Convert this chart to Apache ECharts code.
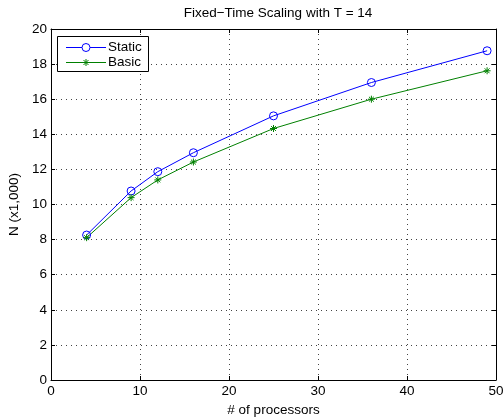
<!DOCTYPE html>
<html><head><meta charset="utf-8">
<script src="https://cdn.jsdelivr.net/npm/echarts@6/dist/echarts.min.js"></script>
<style>html,body{margin:0;padding:0;background:#fff}#c{width:503px;height:419px}</style>
</head><body><div id="c"></div>
<script>
var processors = [4, 9, 12, 16, 25, 36, 49];
var staticVals = [8.26, 10.77, 11.87, 12.95, 15.05, 16.95, 18.76];
var basicVals = [8.11, 10.39, 11.40, 12.42, 14.33, 16.0, 17.62];
var seriesNames = ['Static', 'Basic'];
var xTicks = [0, 10, 20, 30, 40, 50];
var yTicks = [0, 2, 4, 6, 8, 10, 12, 14, 16, 18, 20];

var font = 'Liberation Sans, Arial, Helvetica, sans-serif';
var fs = 13.5;
var blue = '#0000ff', green = '#008000';
var chart = echarts.init(document.getElementById('c'), null, {renderer: 'canvas'});
function pairs(xs, ys) { return xs.map(function (x, i) { return [x, ys[i]]; }); }
var star = 'path://M0,-10L0,10M-10,0L10,0M-7,-7L7,7M-7,7L7,-7';
var axisCommon = {
  axisLine: {show: true, onZero: false, lineStyle: {color: '#000', width: 1}},
  axisTick: {show: true, inside: true, length: 4, lineStyle: {color: '#000'}},
  axisLabel: {color: '#000', fontFamily: font, fontSize: fs},
  splitLine: {show: false}
};
var gridLine = {show: true, lineStyle: {color: '#444', type: [1, 4], width: 1}};
// legend (drawn as graphic elements)
var lx = 86, ly1 = 47.5, ly2 = 62.5, sr = 3.5, sd = 2.5;
var legendEls = [
  {type: 'rect', z: 100, shape: {x: 57.5, y: 36.5, width: 91, height: 35}, style: {fill: '#fff', stroke: '#000', lineWidth: 1}},
  {type: 'line', z: 101, shape: {x1: 66, y1: ly1, x2: 106, y2: ly1}, style: {stroke: blue, lineWidth: 1}},
  {type: 'circle', z: 102, shape: {cx: lx, cy: ly1, r: 4}, style: {fill: '#fff', stroke: blue, lineWidth: 1}},
  {type: 'text', z: 102, x: 108, y: ly1 - 7.5, style: {text: seriesNames[0], font: fs + 'px ' + font, fill: '#000'}},
  {type: 'line', z: 101, shape: {x1: 66, y1: ly2, x2: 106, y2: ly2}, style: {stroke: green, lineWidth: 1}},
  {type: 'line', z: 102, shape: {x1: lx, y1: ly2 - sr, x2: lx, y2: ly2 + sr}, style: {stroke: green, lineWidth: 1}},
  {type: 'line', z: 102, shape: {x1: lx - sr, y1: ly2, x2: lx + sr, y2: ly2}, style: {stroke: green, lineWidth: 1}},
  {type: 'line', z: 102, shape: {x1: lx - sd, y1: ly2 - sd, x2: lx + sd, y2: ly2 + sd}, style: {stroke: green, lineWidth: 1}},
  {type: 'line', z: 102, shape: {x1: lx - sd, y1: ly2 + sd, x2: lx + sd, y2: ly2 - sd}, style: {stroke: green, lineWidth: 1}},
  {type: 'text', z: 102, x: 108, y: ly2 - 7.5, style: {text: seriesNames[1], font: fs + 'px ' + font, fill: '#000'}}
];
chart.setOption({
  animation: false,
  title: {text: 'Fixed\u2212Time Scaling with T = 14', left: 273, textAlign: 'center', top: 1,
    textStyle: {fontFamily: font, fontSize: fs, fontWeight: 'normal', color: '#000'}},
  grid: {left: 51, right: 7, top: 29, bottom: 39, outerBoundsMode: 'none', containLabel: false},
  xAxis: [
    Object.assign({}, axisCommon, {type: 'value', min: 0, max: 50, interval: 10, position: 'bottom',
      name: '# of processors', nameLocation: 'middle', nameGap: 16,
      nameTextStyle: {fontFamily: font, fontSize: fs, color: '#000'},
      axisLabel: {color: '#000', fontFamily: font, fontSize: fs, margin: 4,
        formatter: function (v) { return xTicks.indexOf(v) >= 0 ? String(v) : ''; }},
      splitLine: gridLine}),
    Object.assign({}, axisCommon, {type: 'value', min: 0, max: 50, interval: 10, position: 'top',
      axisLabel: {show: false}})
  ],
  yAxis: [
    Object.assign({}, axisCommon, {type: 'value', min: 0, max: 20, interval: 2, position: 'left',
      name: 'N (x1,000)', nameLocation: 'middle', nameGap: 15, nameRotate: 90,
      nameTextStyle: {fontFamily: font, fontSize: fs, color: '#000'},
      axisLabel: {color: '#000', fontFamily: font, fontSize: fs, margin: 4,
        formatter: function (v) { return yTicks.indexOf(v) >= 0 ? String(v) : ''; }},
      splitLine: gridLine}),
    Object.assign({}, axisCommon, {type: 'value', min: 0, max: 20, interval: 2, position: 'right',
      axisLabel: {show: false}})
  ],
  graphic: legendEls,
  series: [
    {name: seriesNames[0], type: 'line', data: pairs(processors, staticVals),
      symbol: 'circle', symbolSize: 8, showAllSymbol: true,
      lineStyle: {color: blue, width: 1}, itemStyle: {color: 'none', borderColor: blue, borderWidth: 1}},
    {name: seriesNames[1], type: 'line', data: pairs(processors, basicVals),
      symbol: star, symbolSize: 7, showAllSymbol: true,
      lineStyle: {color: green, width: 1}, itemStyle: {color: 'none', borderColor: green, borderWidth: 1}}
  ]
});
</script></body></html>
